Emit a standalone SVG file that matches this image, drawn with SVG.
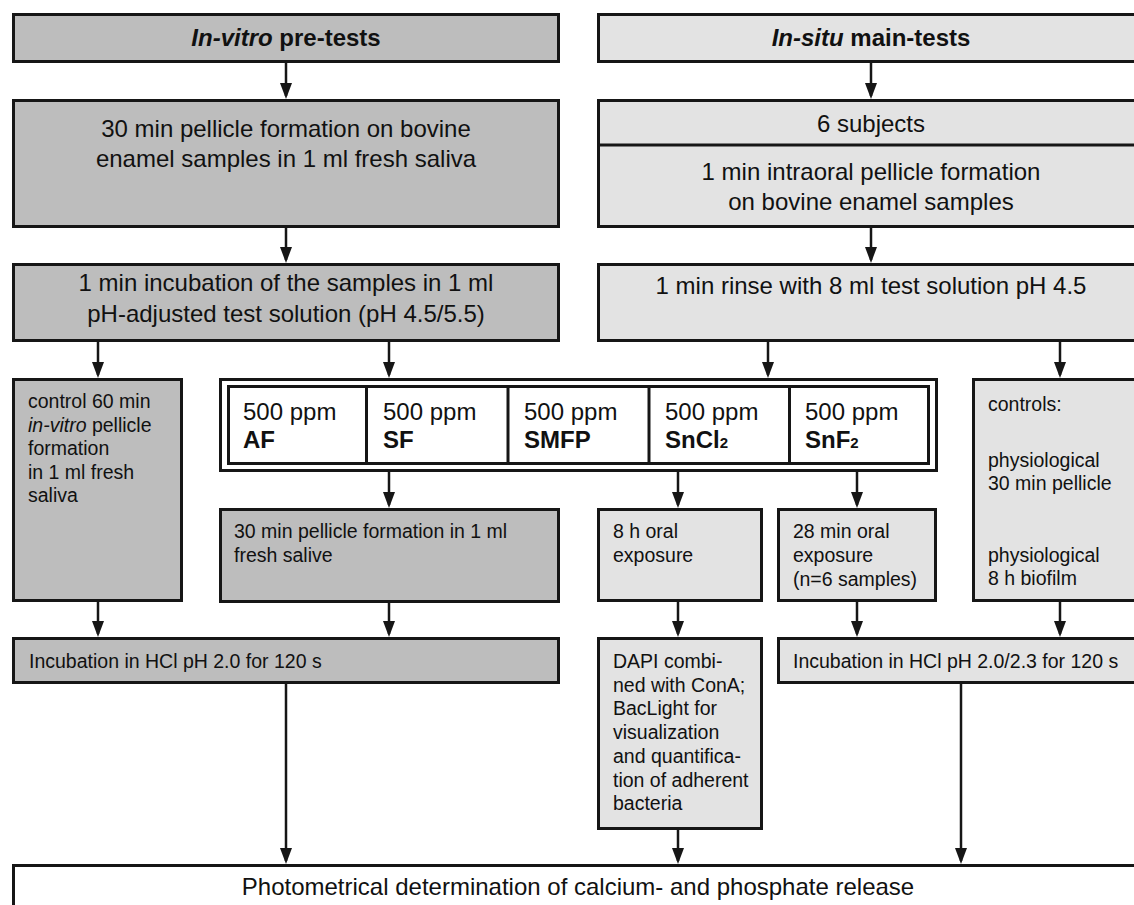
<svg xmlns="http://www.w3.org/2000/svg" width="1134" height="905" viewBox="0 0 1134 905">
<defs>
<style>
text{font-family:"Liberation Sans",Arial,sans-serif;fill:#111}
.dk{fill:#bdbdbd;stroke:#161616;stroke-width:3}
.lt{fill:#e3e3e3;stroke:#161616;stroke-width:3}
.wh{fill:#ffffff;stroke:#161616;stroke-width:3}
.ln{fill:none;stroke:#161616;stroke-width:3}
.big{font-size:24px}
.sm{font-size:19.5px}
.hd{font-size:24px;font-weight:bold}
.ar{fill:none;stroke:#161616;stroke-width:2.5;marker-end:url(#ah)}
</style>
<marker id="ah" markerUnits="userSpaceOnUse" viewBox="0 0 16 12" markerWidth="16" markerHeight="12" refX="13" refY="6" orient="auto">
<path d="M0,0 L16,6 L0,12 z" fill="#161616"/>
</marker>
</defs>
<rect width="1134" height="905" fill="#ffffff"/>

<g id="connectors">
<path class="ar" d="M286,63 V96"/>
<path class="ar" d="M286,228 V260"/>
<path class="ar" d="M286,684 V861"/>
<path class="ar" d="M871,63 V96"/>
<path class="ar" d="M871,228 V260"/>
<path class="ar" d="M98,342 V375"/>
<path class="ar" d="M98,602 V634"/>
<path class="ar" d="M389,342 V375"/>
<path class="ar" d="M389,472 V505"/>
<path class="ar" d="M389,603 V634"/>
<path class="ar" d="M768,342 V375"/>
<path class="ar" d="M1060,342 V375"/>
<path class="ar" d="M1060,602 V634"/>
<path class="ar" d="M678,472 V505"/>
<path class="ar" d="M678,602 V634"/>
<path class="ar" d="M678,830 V861"/>
<path class="ar" d="M857,472 V505"/>
<path class="ar" d="M857,602 V634"/>
<path class="ar" d="M961,684 V861"/>
</g>

<g id="invitro-header">
<rect class="dk" x="13.5" y="14.5" width="545" height="47"/>
<text class="hd" x="286" y="46" text-anchor="middle"><tspan font-style="italic">In-vitro</tspan> pre-tests</text>
</g>

<g id="insitu-header">
<rect class="lt" x="598.5" y="14.5" width="550" height="47"/>
<text class="hd" x="871" y="46" text-anchor="middle"><tspan font-style="italic">In-situ</tspan> main-tests</text>
</g>

<g id="invitro-pellicle">
<rect class="dk" x="13.5" y="100.5" width="545" height="126"/>
<text class="big" x="286" y="137" text-anchor="middle">30 min pellicle formation on bovine</text>
<text class="big" x="286" y="167" text-anchor="middle">enamel samples in 1 ml fresh saliva</text>
</g>

<g id="insitu-pellicle">
<rect class="lt" x="598.5" y="100.5" width="550" height="126"/>
<line class="ln" x1="598.5" y1="145" x2="1148.5" y2="145"/>
<text class="big" x="871" y="132" text-anchor="middle">6 subjects</text>
<text class="big" x="871" y="180" text-anchor="middle">1 min intraoral pellicle formation</text>
<text class="big" x="871" y="210" text-anchor="middle">on bovine enamel samples</text>
</g>

<g id="invitro-incubation">
<rect class="dk" x="13.5" y="264.5" width="545" height="76"/>
<text class="big" x="286" y="291" text-anchor="middle">1 min incubation of the samples in 1 ml</text>
<text class="big" x="286" y="322" text-anchor="middle">pH-adjusted test solution (pH 4.5/5.5)</text>
</g>

<g id="insitu-rinse">
<rect class="lt" x="598.5" y="264.5" width="550" height="76"/>
<text class="big" x="871" y="294" text-anchor="middle">1 min rinse with 8 ml test solution pH 4.5</text>
</g>

<g id="control-invitro">
<rect class="dk" x="13.5" y="379.5" width="168" height="221"/>
<text class="sm" x="28" y="408">control 60 min</text>
<text class="sm" x="28" y="432"><tspan font-style="italic">in-vitro</tspan> pellicle</text>
<text class="sm" x="28" y="455">formation</text>
<text class="sm" x="28" y="479">in 1 ml fresh</text>
<text class="sm" x="28" y="502">saliva</text>
</g>

<g id="compounds">
<rect class="wh" x="220.5" y="379.5" width="716" height="91"/>
<rect class="wh" x="228.5" y="386.5" width="700" height="77"/>
<line class="ln" x1="366.5" y1="386.5" x2="366.5" y2="463.5"/>
<line class="ln" x1="508" y1="386.5" x2="508" y2="463.5"/>
<line class="ln" x1="649" y1="386.5" x2="649" y2="463.5"/>
<line class="ln" x1="789.5" y1="386.5" x2="789.5" y2="463.5"/>
<text class="big" x="243" y="420">500 ppm</text>
<text class="hd" x="243" y="448">AF</text>
<text class="big" x="383" y="420">500 ppm</text>
<text class="hd" x="383" y="448">SF</text>
<text class="big" x="524" y="420">500 ppm</text>
<text class="hd" x="524" y="448">SMFP</text>
<text class="big" x="665" y="420">500 ppm</text>
<text class="hd" x="665" y="448">SnCl<tspan font-size="15">2</tspan></text>
<text class="big" x="805" y="420">500 ppm</text>
<text class="hd" x="805" y="448">SnF<tspan font-size="15">2</tspan></text>
</g>

<g id="controls-insitu">
<rect class="lt" x="973.5" y="379.5" width="175" height="221"/>
<text class="sm" x="988" y="411">controls:</text>
<text class="sm" x="988" y="467">physiological</text>
<text class="sm" x="988" y="490">30 min pellicle</text>
<text class="sm" x="988" y="562">physiological</text>
<text class="sm" x="988" y="585">8 h biofilm</text>
</g>

<g id="pellicle-30">
<rect class="dk" x="220.5" y="509.5" width="338" height="92"/>
<text class="sm" x="234" y="538">30 min pellicle formation in 1 ml</text>
<text class="sm" x="234" y="562">fresh salive</text>
</g>

<g id="oral-8h">
<rect class="lt" x="598.5" y="509.5" width="163" height="91"/>
<text class="sm" x="613" y="538">8 h oral</text>
<text class="sm" x="613" y="562">exposure</text>
</g>

<g id="oral-28min">
<rect class="lt" x="778.5" y="509.5" width="157" height="91"/>
<text class="sm" x="793" y="538">28 min oral</text>
<text class="sm" x="793" y="562">exposure</text>
<text class="sm" x="793" y="586">(n=6 samples)</text>
</g>

<g id="hcl-invitro">
<rect class="dk" x="13.5" y="638.5" width="545" height="44"/>
<text class="sm" x="29" y="668">Incubation in HCl pH 2.0 for 120 s</text>
</g>

<g id="dapi">
<rect class="lt" x="598.5" y="638.5" width="163" height="190"/>
<text class="sm" x="613" y="668">DAPI combi-</text>
<text class="sm" x="613" y="692">ned with ConA;</text>
<text class="sm" x="613" y="715">BacLight for</text>
<text class="sm" x="613" y="739">visualization</text>
<text class="sm" x="613" y="763">and quantifica-</text>
<text class="sm" x="613" y="787">tion of adherent</text>
<text class="sm" x="613" y="810">bacteria</text>
</g>

<g id="hcl-insitu">
<rect class="lt" x="778.5" y="638.5" width="370" height="44"/>
<text class="sm" x="793" y="668">Incubation in HCl pH 2.0/2.3 for 120 s</text>
</g>

<g id="photometry">
<rect class="wh" x="13.5" y="865.5" width="1140" height="50"/>
<text class="big" x="578" y="895" text-anchor="middle">Photometrical determination of calcium- and phosphate release</text>
</g>
</svg>
